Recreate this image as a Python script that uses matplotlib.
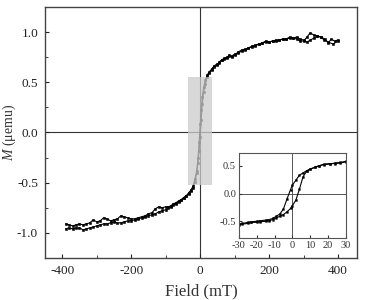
import matplotlib
matplotlib.use("Agg")
from matplotlib import pyplot as plt
from matplotlib.patches import Rectangle
from matplotlib.ticker import MultipleLocator

# main loop, descending branch (field in mT, M in uemu)
fieldDown = [400, 390, 380, 372, 362, 350, 340, 330, 319, 310, 300, 290, 280, 270, 260, 250,
             240, 230, 220, 210, 200, 190, 180, 170, 160, 150, 140, 130, 120, 110, 100, 92,
             85, 78, 70, 62, 55, 48, 40, 33, 26, 20, 15, 10, 6, 3, 0, -3, -6, -10, -15, -20,
             -26, -33, -40, -48, -55, -62, -70, -78, -85, -92, -100, -110, -120, -130, -140,
             -150, -160, -170, -180, -190, -200, -210, -220, -230, -240, -250, -260, -270,
             -280, -290, -300, -310, -320, -330, -340, -350, -360, -370, -380, -390]
mDown = [0.92, 0.91, 0.93, 0.89, 0.93, 0.95, 0.96, 0.97, 0.99, 0.95, 0.91, 0.91, 0.93, 0.94,
         0.95, 0.93, 0.93, 0.92, 0.91, 0.91, 0.90, 0.91, 0.89, 0.88, 0.86, 0.85, 0.84, 0.82,
         0.81, 0.79, 0.78, 0.76, 0.76, 0.74, 0.73, 0.72, 0.69, 0.68, 0.66, 0.63, 0.60, 0.57,
         0.52, 0.45, 0.35, 0.22, 0.08, -0.10, -0.25, -0.38, -0.46, -0.53, -0.57, -0.60, -0.63,
         -0.65, -0.67, -0.68, -0.70, -0.71, -0.73, -0.74, -0.74, -0.75, -0.74, -0.76, -0.80,
         -0.81, -0.83, -0.84, -0.85, -0.86, -0.86, -0.85, -0.84, -0.83, -0.86, -0.87, -0.88,
         -0.86, -0.85, -0.88, -0.89, -0.87, -0.90, -0.91, -0.92, -0.91, -0.92, -0.93, -0.92,
         -0.91]

# main loop, ascending branch
fieldUp = [-390, -380, -370, -360, -350, -340, -330, -320, -310, -300, -290, -280, -270, -260,
           -250, -240, -230, -220, -210, -200, -190, -180, -170, -160, -150, -140, -130, -120,
           -110, -100, -92, -85, -78, -70, -62, -55, -48, -40, -33, -26, -20, -15, -10, -6, -3,
           0, 3, 6, 10, 15, 20, 26, 33, 40, 48, 55, 62, 70, 78, 85, 92, 100, 110, 120, 130,
           140, 150, 160, 170, 180, 190, 200, 210, 220, 230, 240, 250, 260, 270, 280, 290, 300,
           310, 320, 330, 340, 350, 360, 372, 385, 400]
mUp = [-0.96, -0.95, -0.96, -0.95, -0.95, -0.97, -0.96, -0.95, -0.94, -0.93, -0.92, -0.91,
       -0.91, -0.90, -0.89, -0.90, -0.90, -0.89, -0.88, -0.88, -0.87, -0.86, -0.85, -0.84,
       -0.83, -0.82, -0.81, -0.79, -0.78, -0.77, -0.75, -0.74, -0.72, -0.71, -0.69, -0.67,
       -0.65, -0.63, -0.61, -0.58, -0.55, -0.49, -0.40, -0.30, -0.18, -0.05, 0.12, 0.28, 0.40,
       0.48, 0.55, 0.59, 0.62, 0.65, 0.67, 0.70, 0.72, 0.74, 0.75, 0.77, 0.75, 0.77, 0.80,
       0.82, 0.83, 0.84, 0.86, 0.87, 0.88, 0.89, 0.90, 0.90, 0.91, 0.92, 0.92, 0.93, 0.93,
       0.94, 0.94, 0.95, 0.93, 0.92, 0.90, 0.92, 0.94, 0.96, 0.95, 0.92, 0.90, 0.88, 0.91]

# inset, low field detail
insetFieldDown = [30, 27, 24, 21, 18, 15, 13, 10, 8, 6, 4, 2, 0, -1, -3, -5, -7, -9, -11, -13,
                  -15, -18, -20, -23, -25, -28, -30]
insetMDown = [0.57, 0.55, 0.54, 0.54, 0.53, 0.50, 0.47, 0.44, 0.41, 0.37, 0.33, 0.24, 0.15,
              0.07, -0.10, -0.28, -0.37, -0.41, -0.45, -0.47, -0.48, -0.49, -0.50, -0.51,
              -0.52, -0.54, -0.55]
insetFieldUp = [-30, -28, -25, -23, -20, -18, -15, -13, -11, -9, -7, -5, -3, -1, 0, 2, 4, 6, 8,
                10, 13, 15, 18, 21, 24, 27, 30]
insetMUp = [-0.56, -0.55, -0.54, -0.52, -0.52, -0.51, -0.50, -0.49, -0.47, -0.44, -0.41, -0.38,
            -0.33, -0.27, -0.22, -0.12, 0.08, 0.30, 0.40, 0.44, 0.48, 0.50, 0.52, 0.53, 0.55,
            0.56, 0.58]

plt.rcParams["font.family"] = "Liberation Serif"
plt.rcParams["mathtext.fontset"] = "custom"
plt.rcParams["mathtext.it"] = "Liberation Serif:italic"
plt.rcParams["mathtext.rm"] = "Liberation Serif"
plt.rcParams["axes.unicode_minus"] = False

fig = plt.figure(figsize=(3.75, 3.0), dpi=100)
ax = fig.add_axes([0.12, 0.14, 0.832, 0.837])

ax.axvline(0, color="#333333", lw=0.8, zorder=1)
ax.axhline(0, color="#333333", lw=0.8, zorder=1)
ax.plot(fieldDown, mDown, "-s", color="black", lw=0.8, ms=1.6, mew=0.4, zorder=2)
ax.plot(fieldUp, mUp, "-s", color="black", lw=0.8, ms=1.6, mew=0.4, zorder=2)
ax.add_patch(Rectangle((-35, -0.52), 70, 1.07, facecolor="#cccccc", edgecolor="none",
                       alpha=0.75, zorder=3))

ax.set_xlim(-450, 455)
ax.set_ylim(-1.25, 1.25)
ax.xaxis.set_minor_locator(MultipleLocator(100))
ax.yaxis.set_minor_locator(MultipleLocator(0.25))
ax.set_xticks([-400, -200, 0, 200, 400])
ax.set_yticks([-1.0, -0.5, 0.0, 0.5, 1.0])
ax.set_yticklabels(["-1.0", "-0.5", "0.0", "0.5", "1.0"])
ax.set_xticklabels(["-400", "-200", "0", "200", "400"])
ax.tick_params(which="both", direction="in", labelsize=9.5, colors="#222222")
ax.tick_params(which="major", length=3, pad=5)
ax.tick_params(which="minor", length=2)
for s in ax.spines.values():
    s.set_color("#444444")
    s.set_linewidth(1.0)
ax.set_xlabel("Field (mT)", fontsize=12, color="#333333", labelpad=5)
ax.set_ylabel(r"$\mathit{M}$ (μemu)", fontsize=10, color="#333333")
ax.yaxis.set_label_coords(-0.088, 0.5)

ins = fig.add_axes([0.637, 0.207, 0.285, 0.283])
ins.axvline(0, color="#555555", lw=0.7, zorder=1)
ins.axhline(0, color="#555555", lw=0.7, zorder=1)
ins.plot(insetFieldDown, insetMDown, "-s", color="black", lw=0.8, ms=1.3, mew=0.3, zorder=2)
ins.plot(insetFieldUp, insetMUp, "-s", color="black", lw=0.8, ms=1.3, mew=0.3, zorder=2)
ins.set_xlim(-30, 30)
ins.set_ylim(-0.8, 0.73)
ins.set_xticks([-30, -20, -10, 0, 10, 20, 30])
ins.set_yticks([-0.5, 0.0, 0.5])
ins.set_yticklabels(["-0.5", "0.0", "0.5"])
ins.tick_params(direction="in", length=2, labelsize=7.5, colors="#333333", pad=2)
for s in ins.spines.values():
    s.set_color("#555555")
    s.set_linewidth(0.8)

plt.savefig("out.png")
